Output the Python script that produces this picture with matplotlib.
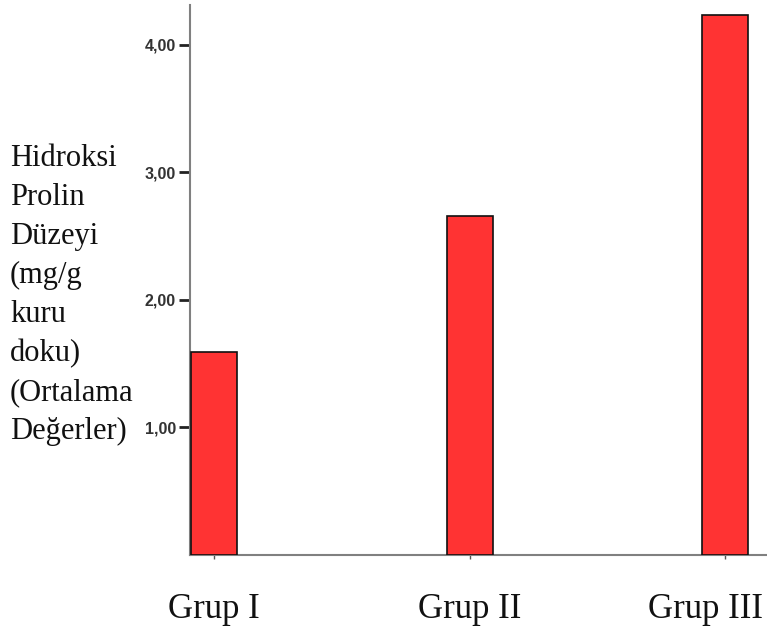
import matplotlib
matplotlib.use("Agg")
import matplotlib.pyplot as plt
from matplotlib.transforms import ScaledTranslation

categories = ["Grup I", "Grup II", "Grup III"]
values = [1.59, 2.66, 4.23]
yticks = [1.0, 2.0, 3.0, 4.0]
ytick_labels = ["1,00", "2,00", "3,00", "4,00"]
ylabel_lines = ["Hidroksi", "Prolin", "Düzeyi", "(mg/g", "kuru", "doku)", "(Ortalama", "Değerler)"]

W, H = 767, 633
fig = plt.figure(figsize=(W / 100, H / 100), dpi=100)
ax = fig.add_axes([190 / W, (H - 555) / H, (766 - 190) / W, (555 - 5) / H])

x = list(range(len(categories)))
ax.bar(x, values, width=0.18, color="#ff3333", edgecolor="#111111", linewidth=1.2, zorder=3)

ax.set_xlim(-0.094, 2.16)
ax.set_ylim(0, 4.31)

for s in ["top", "right"]:
    ax.spines[s].set_visible(False)
for s in ["left", "bottom"]:
    ax.spines[s].set_color("#808080")
    ax.spines[s].set_linewidth(1.5)

ax.set_yticks(yticks)
ax.set_yticklabels(ytick_labels, fontfamily="Liberation Sans", fontweight="bold",
                   fontsize=11.5, color="#333333")
ax.tick_params(axis="y", length=8, width=2, color="#222222", pad=2)

ax.set_xticks(x)
ax.set_xticklabels(categories, fontfamily="Liberation Serif", fontsize=25, color="#111111")
ax.tick_params(axis="x", length=3, width=1, color="#555555", pad=24)
lab = ax.get_xticklabels()[-1]
lab.set_transform(lab.get_transform() + ScaledTranslation(-0.2, 0, fig.dpi_scale_trans))

fig.text(10 / W, 1 - 295 / H, "\n".join(ylabel_lines), fontfamily="Liberation Serif",
         fontsize=22, ha="left", va="center", linespacing=1.45, color="#111111")

fig.savefig("out.png", dpi=100)
